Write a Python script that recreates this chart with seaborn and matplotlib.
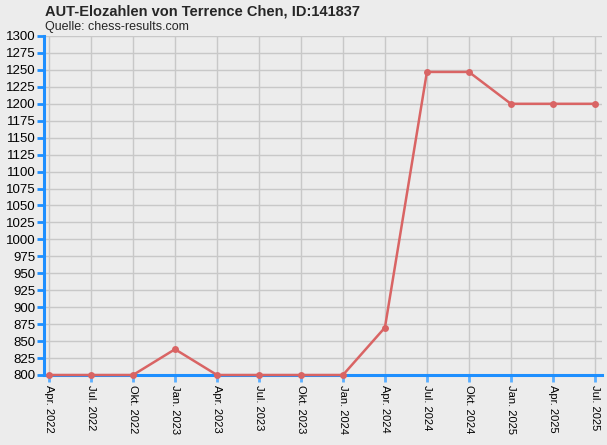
import numpy as np
import pandas as pd
import matplotlib
matplotlib.use("Agg")
import matplotlib.pyplot as plt
import seaborn as sns

# Elo history (quarterly)
dates = ["Apr. 2022", "Jul. 2022", "Okt. 2022", "Jan. 2023", "Apr. 2023", "Jul. 2023",
         "Okt. 2023", "Jan. 2024", "Apr. 2024", "Jul. 2024", "Okt. 2024", "Jan. 2025",
         "Apr. 2025", "Jul. 2025"]
elo = [800, 800, 800, 838, 800, 800, 800, 800, 870, 1247, 1247, 1200, 1200, 1200]
y_ticks = list(range(800, 1301, 25))

bg = "#ececec"
blue = "#1e8fff"
red = "#d96464"

sns.set_theme(style="whitegrid")
plt.rcParams["font.family"] = ["Liberation Sans", "DejaVu Sans"]

df = pd.DataFrame({"pos": np.arange(len(dates)), "elo": elo})

fig = plt.figure(figsize=(6.07, 4.45), dpi=100, facecolor=bg)
ax = fig.add_axes([44 / 607, 1 - 375 / 445, 558 / 607, 339 / 445])
ax.set_facecolor(bg)

sns.lineplot(data=df, x="pos", y="elo", ax=ax, color=red, linewidth=1.8,
             marker="o", markersize=5, markeredgewidth=0, zorder=3, clip_on=False)

ax.set_xlim(-0.12, 13.17)
ax.set_ylim(800, 1300)
ax.set_xticks(df["pos"])
ax.set_xticklabels(dates, rotation=270, fontsize=8, va="top", ha="center")
ax.set_yticks(y_ticks)
ax.set_yticklabels([str(v) for v in y_ticks], fontsize=9.5)
ax.set_xlabel("")
ax.set_ylabel("")

ax.grid(True, color="#c8c8c8", linewidth=1)
for side in ["top", "right"]:
    ax.spines[side].set_visible(False)
for side in ["left", "bottom"]:
    ax.spines[side].set_visible(True)
    ax.spines[side].set_color(blue)
    ax.spines[side].set_linewidth(2.2)
    ax.spines[side].set_zorder(2)

ax.tick_params(axis="y", which="both", direction="out", length=5, width=2,
               color=blue, pad=1, left=True, labelcolor="black")
ax.tick_params(axis="x", which="both", direction="out", length=5, width=2,
               color="#5aaeff", pad=2, bottom=True, labelcolor="black")

fig.text(45 / 607, 1 - 12 / 445, "AUT-Elozahlen von Terrence Chen, ID:141837",
         fontsize=10.5, fontweight="bold", va="center", ha="left")
fig.text(45 / 607, 1 - 27 / 445, "Quelle: chess-results.com",
         fontsize=9, va="center", ha="left")

fig.savefig("out.png", dpi=100, facecolor=bg)
